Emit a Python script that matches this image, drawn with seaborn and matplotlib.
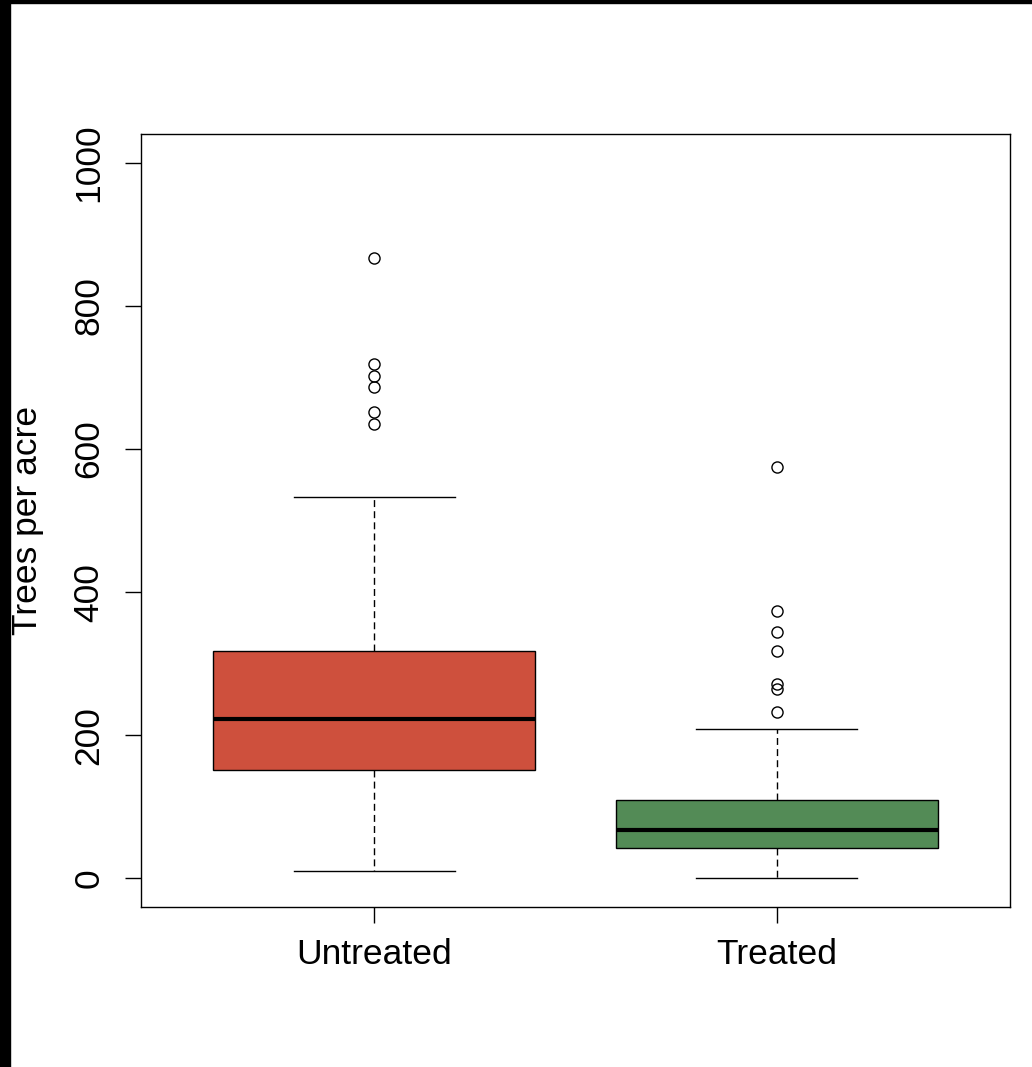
import matplotlib.pyplot as plt
import pandas as pd
import seaborn as sns
from matplotlib.patches import Rectangle

groups = ["Untreated", "Treated"]
# five-number summaries: low whisker, Q1, median, Q3, high whisker
untreated_stats = [10, 151, 222, 317, 533]
treated_stats = [0, 42, 67, 109, 208]
untreated_outliers = [635, 652, 687, 702, 718, 867]
treated_outliers = [232, 264, 271, 318, 344, 374, 575]
box_colors = ["#CE503D", "#538B56"]
y_ticks = [0, 200, 400, 600, 800, 1000]


def sample_from_summary(stats, outliers):
    # repeat the quartiles so the computed box stats match the values read
    lo, q1, med, q3, hi = stats
    k = len(outliers) + 1
    return [lo] + [q1] * k + [med] * k + [q3] * k + [hi] + list(outliers)


untreated = sample_from_summary(untreated_stats, untreated_outliers)
treated = sample_from_summary(treated_stats, treated_outliers)
df = pd.DataFrame({
    "group": ["Untreated"] * len(untreated) + ["Treated"] * len(treated),
    "trees": untreated + treated,
})

plt.rcParams["font.family"] = ["Liberation Sans", "DejaVu Sans"]

fig = plt.figure(figsize=(10.32, 10.67), dpi=100)
ax = fig.add_axes([141 / 1032, 1 - 907 / 1067, (1010 - 141) / 1032, (907 - 134) / 1067])

sns.boxplot(
    data=df,
    x="group",
    y="trees",
    hue="group",
    order=groups,
    hue_order=groups,
    palette=box_colors,
    legend=False,
    saturation=1,
    width=0.8,
    whis=1.5,
    linecolor="black",
    linewidth=1,
    capwidths=0.4,
    medianprops=dict(color="black", linewidth=3),
    whiskerprops=dict(color="black", linewidth=1, linestyle=(0, (5, 3))),
    capprops=dict(color="black", linewidth=1),
    flierprops=dict(marker="o", markerfacecolor="none", markeredgecolor="black",
                    markersize=8, markeredgewidth=1),
    ax=ax,
)

ax.set_xlim(-0.58, 1.58)
ax.set_ylim(-40, 1040)
ax.set_yticks(y_ticks)
ax.set_yticklabels([str(v) for v in y_ticks], rotation=90, va="center")
ax.set_xlabel("")
ax.set_ylabel("Trees per acre", fontsize=25.5)
ax.yaxis.set_label_coords(-0.112, 0.5)

ax.tick_params(axis="both", labelsize=25.5, length=11.5, width=1, direction="out")
ax.tick_params(axis="y", pad=14)
ax.tick_params(axis="x", pad=10.5)

for spine in ["top", "right", "bottom", "left"]:
    ax.spines[spine].set_linewidth(1)
    ax.spines[spine].set_color("black")

# black edge strips seen on the left and top of the reference image
fig.add_artist(Rectangle((0, 0), 10 / 1032, 1, transform=fig.transFigure, color="black"))
fig.add_artist(Rectangle((0, 1 - 3 / 1067), 1, 3 / 1067, transform=fig.transFigure, color="black"))

fig.savefig("out.png", dpi=100)
